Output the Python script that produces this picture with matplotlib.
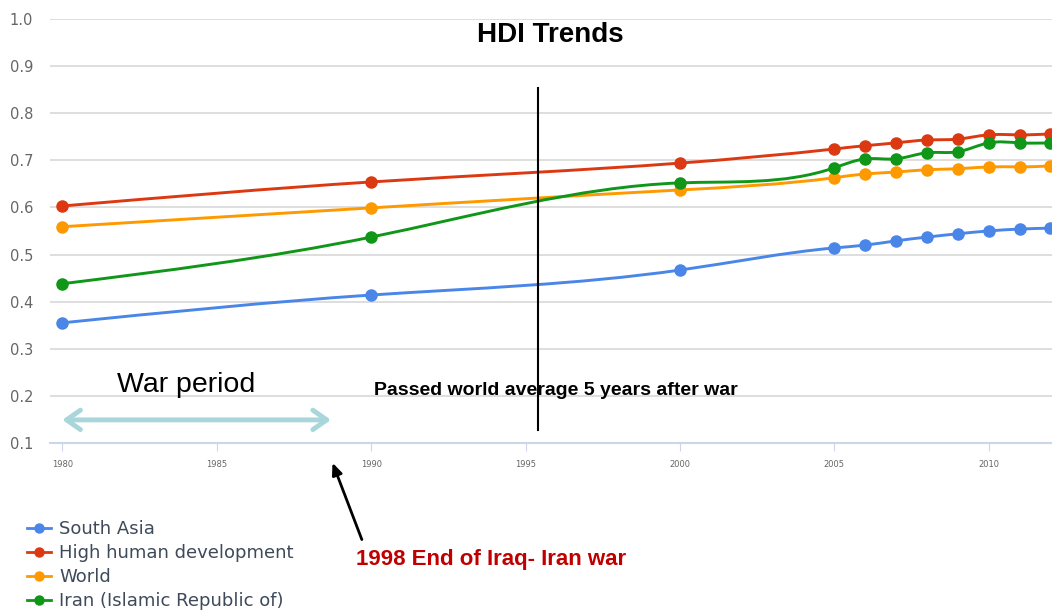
import matplotlib
matplotlib.use('Agg')
import matplotlib.pyplot as plt
import numpy as np
from matplotlib.path import Path
from matplotlib.patches import PathPatch
from matplotlib.lines import Line2D

years = [1980, 1990, 2000, 2005, 2006, 2007, 2008, 2009, 2010, 2011, 2012]
south_asia = [0.355, 0.414, 0.467, 0.514, 0.520, 0.529, 0.537, 0.544, 0.550, 0.554, 0.556]
high_hd    = [0.603, 0.654, 0.694, 0.724, 0.731, 0.737, 0.743, 0.745, 0.754, 0.754, 0.756]
world      = [0.559, 0.599, 0.637, 0.663, 0.671, 0.675, 0.680, 0.682, 0.686, 0.686, 0.688]
iran       = [0.438, 0.537, 0.652, 0.684, 0.703, 0.703, 0.716, 0.718, 0.737, 0.737, 0.737]

series = [
    ('South Asia', south_asia, '#4a86e8'),
    ('High human development', high_hd, '#dc3912'),
    ('World', world, '#ff9900'),
    ('Iran (Islamic Republic of)', iran, '#109618'),
]

x_ticks = [1980, 1985, 1990, 1995, 2000, 2005, 2010]
y_ticks = [0.1, 0.2, 0.3, 0.4, 0.5, 0.6, 0.7, 0.8, 0.9, 1.0]


def spline_path(xs, ys):
    # natural cubic spline through the points, drawn as cubic Bezier segments
    x = np.asarray(xs, float)
    y = np.asarray(ys, float)
    n = len(x)
    h = np.diff(x)
    d = np.diff(y) / h
    A = np.zeros((n, n))
    b = np.zeros(n)
    A[0, 0], A[0, 1], b[0] = 2, 1, 3 * d[0]
    A[-1, -2], A[-1, -1], b[-1] = 1, 2, 3 * d[-1]
    for i in range(1, n - 1):
        A[i, i - 1] = h[i]
        A[i, i] = 2 * (h[i - 1] + h[i])
        A[i, i + 1] = h[i - 1]
        b[i] = 3 * (h[i] * d[i - 1] + h[i - 1] * d[i])
    m = np.linalg.solve(A, b)
    verts = [(x[0], y[0])]
    codes = [Path.MOVETO]
    for i in range(n - 1):
        verts += [(x[i] + h[i] / 3, y[i] + m[i] * h[i] / 3),
                  (x[i + 1] - h[i] / 3, y[i + 1] - m[i + 1] * h[i] / 3),
                  (x[i + 1], y[i + 1])]
        codes += [Path.CURVE4] * 3
    return Path(verts, codes)


fig = plt.figure(figsize=(10.52, 6.11), dpi=100)
ax = fig.add_axes([0.0475, 0.275, 0.9525, 0.694])

handles = []
for name, vals, col in series:
    ax.add_patch(PathPatch(spline_path(years, vals), facecolor='none',
                           edgecolor=col, lw=2.1, zorder=3))
    ax.plot(years, vals, 'o', color=col, ms=8, zorder=4)
    handles.append(Line2D([], [], color=col, lw=2.0, marker='o', ms=6.5))

ax.set_xlim(1979.6, 2012.05)
ax.set_ylim(0.1, 1.0)
ax.set_yticks(y_ticks)
ax.set_yticklabels([f'{v:.1f}' for v in y_ticks])
ax.set_xticks(x_ticks)
ax.set_xticklabels([str(v) for v in x_ticks])
ax.grid(axis='y', color='#d8d8d8', lw=1.2)
ax.set_axisbelow(True)
for s in ['top', 'right', 'left']:
    ax.spines[s].set_visible(False)
ax.spines['bottom'].set_color('#ccd6eb')
ax.spines['bottom'].set_linewidth(1.5)
ax.tick_params(axis='y', length=0, labelsize=10.5, labelcolor='#666666', pad=12)
ax.tick_params(axis='x', length=6, color='#ccd6eb', labelsize=6, labelcolor='#666666', pad=6)

ax.text(1995.8, 0.965, 'HDI Trends', ha='center', va='center', fontsize=20,
        fontweight='bold', family='Liberation Sans')

ax.plot([1995.4, 1995.4], [0.128, 0.854], color='black', lw=1.5, zorder=5)
ax.text(1990.1, 0.211, 'Passed world average 5 years after war', ha='left', va='center',
        fontsize=14, fontweight='bold', family='Liberation Sans')
ax.text(1981.78, 0.222, 'War period', ha='left', va='center', fontsize=20.5,
        family='Liberation Sans')
ax.annotate('', xy=(1980, 0.149), xytext=(1988.7, 0.149),
            arrowprops=dict(arrowstyle='<->,head_length=1.0,head_width=0.7',
                            color='#a9d6db', lw=3.5, shrinkA=0, shrinkB=0))

ax.annotate('', xy=(1988.75, 0.058), xytext=(1989.7, -0.105), annotation_clip=False,
            arrowprops=dict(arrowstyle='-|>,head_length=0.7,head_width=0.3',
                            color='black', lw=2, shrinkA=0, shrinkB=0))
ax.text(1989.5, -0.148, '1998 End of Iraq- Iran war', ha='left', va='center',
        fontsize=16, fontweight='bold', color='#c00000', clip_on=False,
        family='Liberation Sans')

fig.legend(handles, [s[0] for s in series], loc='upper left',
           bbox_to_anchor=(0.026, 0.149), frameon=False, fontsize=13,
           labelcolor='#3e4a5a', handlelength=1.3, handletextpad=0.45,
           labelspacing=0.33, borderpad=0, borderaxespad=0)

fig.savefig('out.png', dpi=100)
